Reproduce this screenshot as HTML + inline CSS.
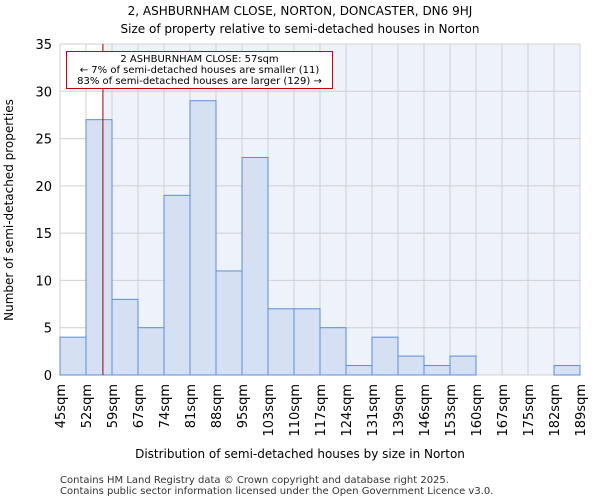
<!DOCTYPE html>
<html><head><meta charset="utf-8"><style>
body{margin:0;background:#fff;font-family:"DejaVu Sans","Liberation Sans",sans-serif}
</style></head><body>
<svg width="600" height="500" xmlns="http://www.w3.org/2000/svg" font-family="DejaVu Sans, Liberation Sans, sans-serif">
<text x="300" y="15" text-anchor="middle" font-size="12">2, ASHBURNHAM CLOSE, NORTON, DONCASTER, DN6 9HJ</text>
<text x="300" y="33" text-anchor="middle" font-size="12">Size of property relative to semi-detached houses in Norton</text>
<g id="plot"></g>
<text x="300" y="458" text-anchor="middle" font-size="12">Distribution of semi-detached houses by size in Norton</text>
<text transform="translate(13,210) rotate(-90)" text-anchor="middle" font-size="12">Number of semi-detached properties</text>
<text x="60" y="483" font-size="10" fill="#333">Contains HM Land Registry data © Crown copyright and database right 2025.</text>
<text x="60" y="494" font-size="10" fill="#333">Contains public sector information licensed under the Open Government Licence v3.0.</text>
</svg>
<script>
const categories=["45sqm","52sqm","59sqm","67sqm","74sqm","81sqm","88sqm","95sqm","103sqm","110sqm","117sqm","124sqm","131sqm","139sqm","146sqm","153sqm","160sqm","167sqm","175sqm","182sqm","189sqm"];
const counts=[4,27,8,5,19,29,11,23,7,7,5,1,4,2,1,2,0,0,0,1];
const yTicks=[0,5,10,15,20,25,30,35];
const propertyBin=1.65;
const NS="http://www.w3.org/2000/svg";
const g=document.getElementById('plot');
const L=60,R=580,T=44,B=375,yMax=35;
const nb=counts.length, bw=(R-L)/nb;
const x=i=>L+i*bw, y=v=>B-(v/yMax)*(B-T);
function mk(t,a){const e=document.createElementNS(NS,t);for(const k in a)e.setAttribute(k,a[k]);g.appendChild(e);return e;}
const px=x(propertyBin);
let e=mk('rect',{x:L,y:T,width:px-L,height:B-T,fill:'#fff'});


e=mk('rect',{x:px,y:T,width:R-px,height:B-T,fill:'#eef2fb'});


for(let i=0;i<=nb;i++){e=mk('line',{x1:x(i),x2:x(i),y1:T,y2:B,stroke:'#d0d0d0','stroke-width':1});

}
yTicks.forEach(t=>{e=mk('line',{x1:L,x2:R,y1:y(t),y2:y(t),stroke:'#d0d0d0','stroke-width':1});


e=mk('text',{x:L-8,y:y(t)+5,'text-anchor':'end','font-size':13});e.textContent=t;

});
counts.forEach((c,i)=>{if(c<=0)return;e=mk('rect',{x:x(i),y:y(c),width:bw,height:B-y(c),fill:'#d6e0f3',stroke:'#5b8dd9','stroke-width':1});

});
categories.forEach((c,i)=>{e=mk('text',{transform:`translate(${x(i)+5},384) rotate(-90)`,'text-anchor':'end','font-size':13});e.textContent=c;

});
e=mk('line',{x1:px,x2:px,y1:T,y2:B,stroke:'#a00000','stroke-width':1});


e=mk('rect',{x:66.5,y:51.5,width:266,height:37,fill:'#fff',stroke:'#c00','stroke-width':1});


[["2 ASHBURNHAM CLOSE: 57sqm",62],["← 7% of semi-detached houses are smaller (11)",73],["83% of semi-detached houses are larger (129) →",84]].forEach(([s,yy])=>{e=mk('text',{x:199.5,y:yy,'text-anchor':'middle','font-size':10});e.textContent=s;

});
</script>
</body></html>
